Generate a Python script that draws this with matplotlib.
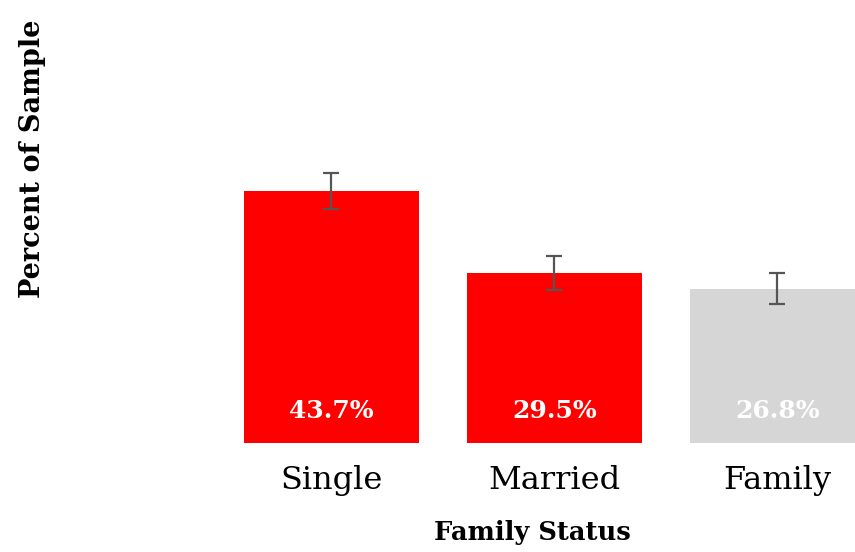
import numpy as np
import matplotlib.pyplot as plt

plt.rcParams['font.family'] = ['DejaVu Serif']

categories = ['Single', 'Married', 'Family']
percents = [43.7, 29.5, 26.8]
errors = [3.1, 2.9, 2.7]
colors = ['#ff0000', '#ff0000', '#d6d6d6']

fig = plt.figure(figsize=(8.55, 5.52), dpi=100)
# axes runs past the top of the figure, as in the cropped original
ax = fig.add_axes([209 / 855, 109 / 552, 646 / 855, 576 / 552])

x = np.arange(len(categories))
ax.bar(x, percents, width=0.785, color=colors, zorder=1)
ax.errorbar(x, percents, yerr=errors, fmt='none', ecolor='#555555',
            elinewidth=1.6, capsize=5.8, capthick=1.6, zorder=2)

for xi, p in zip(x, percents):
    ax.text(xi, 4.4, f'{p:.1f}%', ha='center', va='baseline', color='white',
            fontsize=18, fontweight='bold')

ax.set_xlim(-0.549, 2.348)
ax.set_ylim(0, 100)
ax.set_xticks(x)
ax.set_xticklabels(categories, fontsize=23)
ax.tick_params(axis='x', length=0, pad=16)
ax.set_yticks([])
for s in ax.spines.values():
    s.set_visible(False)

ax.set_xlabel('Family Status', fontsize=18.5, fontweight='bold', labelpad=17)
ax.set_ylabel('Percent of Sample', fontsize=19.5, fontweight='bold')
ax.yaxis.set_label_coords((-209 + 46) / 646, 0.5 - 4 / 576)

fig.savefig('out.png', dpi=100)
